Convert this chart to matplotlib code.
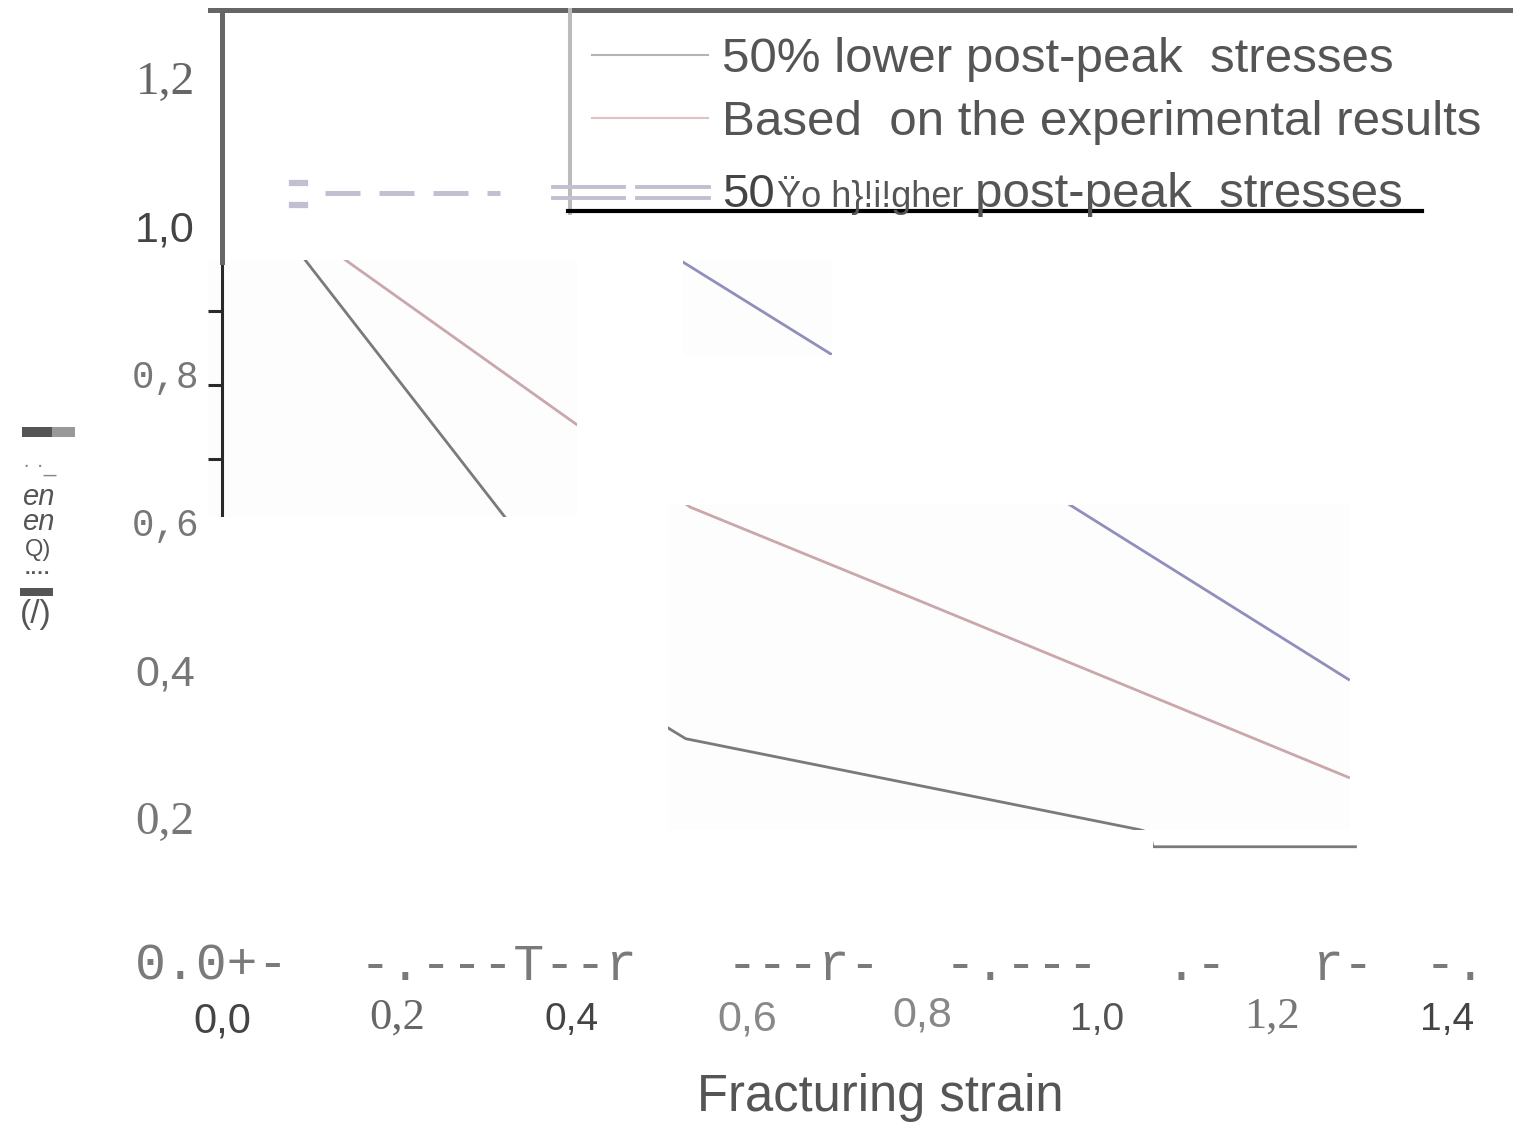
import matplotlib
matplotlib.use("Agg")
import matplotlib.pyplot as plt
from matplotlib import font_manager
from matplotlib.lines import Line2D
from matplotlib.patches import Rectangle
from matplotlib.path import Path

# ---- data: normalised stress vs fracturing strain ----
lower_x = [0.0, 0.095, 0.323, 0.505, 0.53, 1.049, 1.06, 1.064, 1.297]
lower_y = [1.113, 0.969, 0.622, 0.34, 0.322, 0.199, 0.195, 0.176, 0.176]
exp_x = [0.0, 0.141, 0.406, 0.535, 0.8, 1.289]
exp_y = [1.088, 0.969, 0.746, 0.635, 0.507, 0.269]
higher_x = [0.0, 0.527, 0.697, 0.969, 1.289]
higher_y = [1.356, 0.966, 0.841, 0.638, 0.401]

legend_labels = ["50% lower post-peak  stresses", "Based  on the experimental results",
                 "post-peak  stresses"]
garbled_50 = ["50", "Ÿo h}!i!gher"]
xtick_values = [0.0, 0.2, 0.4, 0.6, 0.8, 1.0, 1.2, 1.4]
xtick_labels = ["0,0", "0,2", "0,4", "0,6", "0,8", "1,0", "1,2", "1,4"]
ytick_values = [1.2, 1.0, 0.8, 0.6, 0.4, 0.2]
ytick_labels = ["1,2", "1,0", "0,8", "0,6", "0,4", "0,2"]
minor_ticks = [0.9, 0.8, 0.7]
axis_row = ["0.0+-", "-.---T--r", "---r-", "-.---", ".-", "r-", "-."]
ylabel_bits = ["· ·_", "en", "en", "Q)", "····", "(/)"]
xlabel = "Fracturing strain"

# ---- layout (pixels of the 1513x1126 picture) ----
W, H = 1513, 1126
X0PX, XSCALE = 222, 875     # x=0 at px 222, 875 px per unit strain
Y0PX, YSCALE = 977, 740     # y=0 at px 977, 740 px per unit stress
# the parts of the scanned plot that survived (data units: x0, y0, x1, y1)
windows = [(-0.016, 0.622, 0.406, 0.969), (0.527, 0.841, 0.697, 0.969),
           (0.51, 0.199, 1.289, 0.638), (1.064, 0.16, 1.297, 0.19)]

names = {f.name for f in font_manager.fontManager.ttflist}
NARROW = "Liberation Sans Narrow" if "Liberation Sans Narrow" in names else "Liberation Sans"
SANS, SERIF, MONO = "Liberation Sans", "Liberation Serif", "Liberation Mono"


def fx(p):
    return p / W


def fy(p):
    return 1 - p / H


def dy(p):
    return (Y0PX - p) / YSCALE


fig = plt.figure(figsize=(W / 100, H / 100), dpi=100)
ax = fig.add_axes([0, 0, 1, 1])
ax.set_xlim(-X0PX / XSCALE, (W - X0PX) / XSCALE)
ax.set_ylim((Y0PX - H) / YSCALE, Y0PX / YSCALE)
ax.axis("off")

clip = Path.make_compound_path(*[
    Path([(a, b), (c, b), (c, d), (a, d), (a, b)], closed=True) for a, b, c, d in windows])
for a, b, c, d in windows[:3]:
    ax.add_patch(Rectangle((a, b), c - a, d - b, facecolor="#fdfdfd", edgecolor="none", zorder=0))

# curves, only visible inside the surviving windows
for xs, ys, col in [(lower_x, lower_y, "#7a7a7a"), (exp_x, exp_y, "#c9a7ab"),
                    (higher_x, higher_y, "#8f8fbb")]:
    ln, = ax.plot(xs, ys, color=col, lw=2.0, solid_capstyle="butt",
                  solid_joinstyle="round", zorder=3)
    ln.set_clip_path(clip, ax.transData)

# piece of the original y axis with its ticks
sp = ax.axvline(0, color="#2a2a2a", lw=2.2, zorder=4)
sp.set_clip_path(clip, ax.transData)
tk = ax.hlines(minor_ticks, -0.016, 0, color="#2a2a2a", lw=2.2, zorder=4)
tk.set_clip_path(clip, ax.transData)


# frame remnants
def fline(x0, y0, x1, y1, **kw):
    fig.add_artist(Line2D([fx(x0), fx(x1)], [fy(y0), fy(y1)], transform=fig.transFigure, **kw))


fline(210, 10, W, 10, color="#666666", lw=3.6)
fline(222, 10, 222, 262, color="#666666", lw=3.6)
fline(570, 10, 570, 213, color="#bbbbbb", lw=2.9)
fline(568, 211, 1422, 211, color="#000000", lw=3.0)

# legend handles
fline(592, 55, 708, 55, color="#b4b4b4", lw=1.5)
fline(592, 118, 708, 118, color="#dcc4c4", lw=1.5)
fline(325, 193, 500, 193, color="#c0c0d0", lw=3.6, dashes=(7, 3.8))
for yy in (187, 198):
    fline(553, yy, 624, yy, color="#c0c0d0", lw=2.8)
    fline(637, yy, 709, yy, color="#c0c0d0", lw=2.8)
for yy in (183, 205):
    fline(292, yy, 305, yy, color="#c0c0d0", lw=4.5)

# legend texts
LEG = 35.5
fig.text(fx(722), fy(72), legend_labels[0], family=SANS, size=LEG, color="#555555", va="baseline")
fig.text(fx(722), fy(135), legend_labels[1], family=SANS, size=LEG, color="#555555", va="baseline")
fig.text(fx(722), fy(207), garbled_50[0], family=SANS, size=34, color="#444444", va="baseline")
fig.text(fx(777), fy(207), garbled_50[1], family=[NARROW, "DejaVu Sans"], size=26,
         color="#555555", va="baseline")
fig.text(fx(975), fy(207), legend_labels[2], family=SANS, size=LEG, color="#555555", va="baseline")

# y tick labels, every one in its own font as in the picture
ystyles = [(SERIF, 34, "#666666"), (SANS, 31, "#444444"), (MONO, 27, "#777777"),
           (MONO, 27, "#777777"), (NARROW, 31, "#777777"), (SERIF, 34, "#777777")]
for v, lab, (fam, sz, col) in zip(ytick_values, ytick_labels, ystyles):
    ax.text(-0.065, v + 0.009, lab, family=fam, size=sz, color=col, ha="center", va="center")

# the broken zero row of the x axis
row_left = [135, 360, 727, 945, 1165, 1313, 1425]
for seg, px in zip(axis_row, row_left):
    fig.text(fx(px), fy(980), seg, family=MONO, size=37, color="#7a7a7a", va="baseline")

# x tick labels
xstyles = [(NARROW, 30, "#444444"), (SERIF, 32, "#666666"), (SANS, 28, "#444444"),
           (NARROW, 31, "#888888"), (NARROW, 31, "#888888"), (SANS, 28, "#555555"),
           (SERIF, 32, "#777777"), (SANS, 28, "#444444")]
xoff = [1022, 1018, 1020, 1020, 1015, 1020, 1017, 1020]
for v, lab, (fam, sz, col), py in zip(xtick_values, xtick_labels, xstyles, xoff):
    ax.text(v, dy(py), lab, family=fam, size=sz, color=col, ha="center", va="center")

fig.text(fx(880), fy(1097), xlabel, family=SANS, size=36.5, color="#555555", ha="center", va="center")

# garbled y label
for x0, x1, col in [(22, 52, "#555555"), (52, 75, "#999999")]:
    fig.add_artist(Rectangle((fx(x0), fy(437)), fx(x1) - fx(x0), fy(427) - fy(437),
                             transform=fig.transFigure, facecolor=col, edgecolor="none"))
fig.add_artist(Rectangle((fx(20), fy(596)), fx(53) - fx(20), fy(588) - fy(596),
                         transform=fig.transFigure, facecolor="#555555", edgecolor="none"))
ybits_pos = [(40, 466), (38, 497), (38, 522), (38, 550), (38, 575), (36, 615)]
ybits_style = [(16, "normal", "#888888"), (21, "italic", "#555555"), (21, "italic", "#555555"),
               (17, "normal", "#555555"), (14, "normal", "#555555"), (24, "normal", "#555555")]
for txt, (px, py), (sz, st, col) in zip(ylabel_bits, ybits_pos, ybits_style):
    fig.text(fx(px), fy(py), txt, family=SANS, size=sz, style=st, color=col,
             ha="center", va="center", weight="bold" if txt == "····" else "normal")

fig.savefig("out.png", dpi=100)
